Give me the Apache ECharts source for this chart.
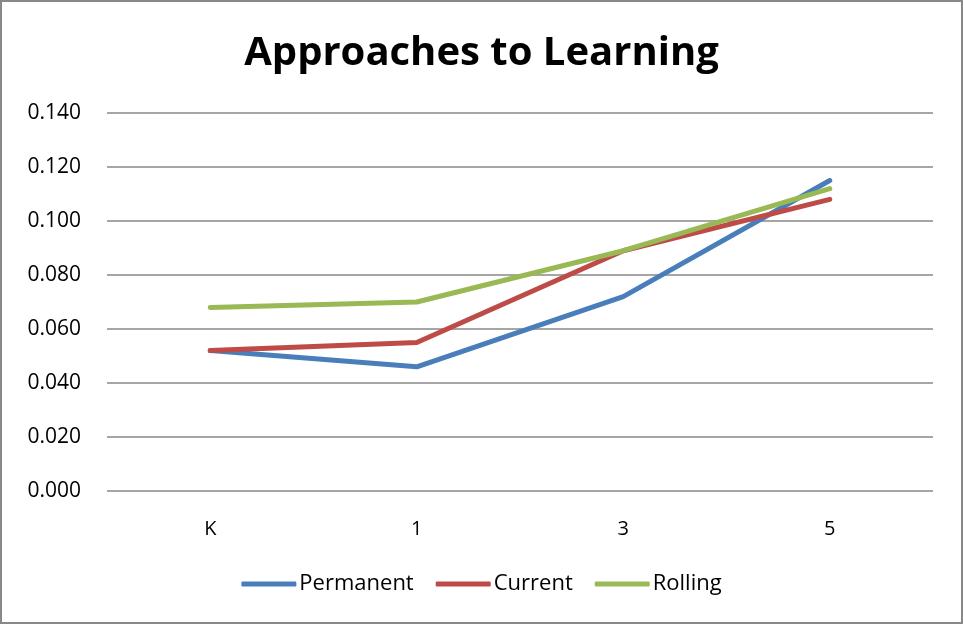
<!DOCTYPE html>
<html><head><meta charset="utf-8">
<script src="https://cdn.jsdelivr.net/npm/echarts@6/dist/echarts.min.js"></script>
<style>html,body{margin:0;padding:0;background:#fff}#c{width:963px;height:624px;box-sizing:border-box;border:2px solid #888}</style>
</head><body><div id="c"></div>
<script>
const categories = ['K', '1', '3', '5'];
const permanent = [0.052, 0.046, 0.072, 0.115];
const current = [0.052, 0.055, 0.089, 0.108];
const rolling = [0.068, 0.070, 0.089, 0.112];
const seriesNames = ['Permanent', 'Current', 'Rolling'];
const colors = ['#4a7ebb', '#be4b48', '#98b954'];

const chart = echarts.init(document.getElementById('c'));
const font = 'Open Sans, Liberation Sans, sans-serif';
chart.setOption({
  animation: false,
  title: { text: 'Approaches to Learning', left: 'center', top: 27,
    textStyle: { fontFamily: font, fontSize: 40, fontWeight: 'bold', color: '#000' } },
  grid: { left: 105, right: 28, top: 111, bottom: 131 },
  legend: { bottom: 22, left: 'center', itemWidth: 55, itemHeight: 5, itemGap: 22, icon: 'roundRect',
    textStyle: { fontFamily: font, fontSize: 22, color: '#000', padding: [0, 0, 0, -2] },
    data: seriesNames },
  xAxis: { type: 'category', data: categories, boundaryGap: true,
    axisLine: { show: false }, axisTick: { show: false },
    axisLabel: { fontFamily: font, fontSize: 20, color: '#000', margin: 28 } },
  yAxis: { type: 'value', min: 0, max: 0.14, interval: 0.02,
    axisLine: { show: false }, axisTick: { show: false },
    splitLine: { lineStyle: { color: '#888', width: 1.5 } },
    axisLabel: { fontFamily: font, fontSize: 21, color: '#000', margin: 26, formatter: v => v.toFixed(3) } },
  series: [permanent, current, rolling].map((d, i) => ({
    name: seriesNames[i], type: 'line', data: d, symbol: 'none',
    lineStyle: { width: 5, color: colors[i], cap: 'round', join: 'round' },
    itemStyle: { color: colors[i] }
  }))
});
</script></body></html>
